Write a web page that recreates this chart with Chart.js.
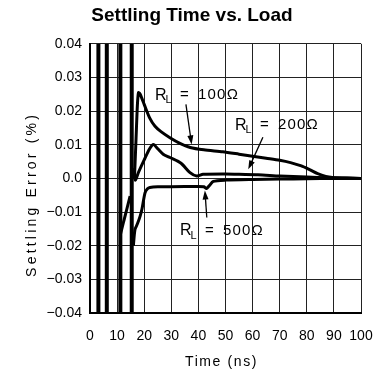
<!DOCTYPE html>
<html>
<head>
<meta charset="utf-8">
<script src="https://cdn.jsdelivr.net/npm/chart.js@4.4.1/dist/chart.umd.min.js"></script>
<style>
	body { margin: 0; background: #fff; }
	canvas { display: block; }
</style>
</head>
<body>
<canvas id="settlingchart" width="374" height="370"></canvas>
<script>
// tick values and labels
const xTicks = [0, 10, 20, 30, 40, 50, 60, 70, 80, 90, 100];
const xTickLabels = ["0", "10", "20", "30", "40", "50", "60", "70", "80", "90", "100"];
const yTicks = [-0.04, -0.03, -0.02, -0.01, 0, 0.01, 0.02, 0.03, 0.04];
const yTickLabels = ["\u22120.04", "\u22120.03", "\u22120.02", "\u22120.01", "0.0", "0.01", "0.02", "0.03", "0.04"];

// ringing before the output settles (off-scale swings)
const ringTimes = [3.1, 6.2, 11.2, 15.4];
const ringDiagTime = [11.2, 14.8];
const ringDiagErr = [-0.0167, -0.0053];

// R_L = 100 ohm
const time100 = [16.4, 17.0, 17.5, 17.9, 18.5, 20, 22, 24, 26.2, 29.5, 33, 37, 42, 49, 55, 60, 65, 70, 74, 78, 81, 84, 87, 89.5, 95, 100];
const err100 = [0.0, 0.012, 0.022, 0.0255, 0.025, 0.022, 0.018, 0.0155, 0.0139, 0.0121, 0.0105, 0.0092, 0.0085, 0.0079, 0.0072, 0.0066, 0.006, 0.0054, 0.0047, 0.0037, 0.0026, 0.0014, 0.0006, 0.0003, 0.0001, 0];

// R_L = 200 ohm
const time200 = [15.8, 16.7, 18, 20, 22, 23.4, 25, 27, 29.5, 33.6, 36.9, 39.4, 41.7, 50, 55, 62, 70, 80, 88, 100];
const err200 = [0.003, -0.0005, 0.002, 0.0055, 0.0088, 0.0101, 0.0088, 0.0072, 0.0062, 0.0045, 0.0017, 0.0007, 0.0012, 0.0013, 0.0012, 0.0011, 0.0007, 0.0004, 0.0002, 0];

// R_L = 500 ohm
const time500 = [16.0, 16.6, 17.5, 18.5, 19.2, 20.3, 21.2, 22.1, 25, 30, 40, 42, 43, 44, 45.5, 50, 60, 70, 80, 90, 100];
const err500 = [-0.02, -0.0152, -0.0135, -0.0112, -0.009, -0.0043, -0.0031, -0.0027, -0.0025, -0.0025, -0.0024, -0.0025, -0.003, -0.0022, -0.0009, -0.0005, -0.0003, -0.0002, -0.0001, 0, 0];

const loadNames = ["100\u03a9", "200\u03a9", "500\u03a9"];

// where the callouts sit, in data units
const notes = [
	{ text: loadNames[0], x: 24.0, y: 0.0247, ax: 35.4, ay: 0.022, bx: 37.5, by: 0.0101 },
	{ text: loadNames[1], x: 53.5, y: 0.0158, ax: 63.8, ay: 0.0122, bx: 58.4, by: 0.0027 },
	{ text: loadNames[2], x: 33.2, y: -0.0155, ax: 43.1, ay: -0.0116, bx: 42.4, by: -0.0036 }
];

function pairs(xs, ys) {
	return xs.map((v, i) => ({ x: v, y: ys[i] }));
}

function curve(xs, ys) {
	return {
		data: pairs(xs, ys),
		showLine: true,
		borderColor: "#000",
		borderWidth: 3,
		pointRadius: 0,
		tension: 0.25
	};
}

const datasets = ringTimes.map((t) => ({
	data: [{ x: t, y: -0.04 }, { x: t, y: 0.04 }],
	showLine: true,
	borderColor: "#000",
	borderWidth: 4,
	pointRadius: 0
}));
datasets.push({
	data: pairs(ringDiagTime, ringDiagErr),
	showLine: true,
	borderColor: "#000",
	borderWidth: 3,
	pointRadius: 0
});
datasets.push(curve(time100, err100));
datasets.push(curve(time200, err200));
datasets.push(curve(time500, err500));

function arrow(ctx, x1, y1, x2, y2) {
	const ang = Math.atan2(y2 - y1, x2 - x1);
	ctx.lineWidth = 1.3;
	ctx.beginPath();
	ctx.moveTo(x1, y1);
	ctx.lineTo(x2 - 6 * Math.cos(ang), y2 - 6 * Math.sin(ang));
	ctx.stroke();
	ctx.beginPath();
	ctx.moveTo(x2, y2);
	ctx.lineTo(x2 - 9 * Math.cos(ang) + 3 * Math.sin(ang), y2 - 9 * Math.sin(ang) - 3 * Math.cos(ang));
	ctx.lineTo(x2 - 9 * Math.cos(ang) - 3 * Math.sin(ang), y2 - 9 * Math.sin(ang) + 3 * Math.cos(ang));
	ctx.closePath();
	ctx.fill();
}

const textPlugin = {
	id: "textPlugin",
	afterDraw(chart) {
		const ctx = chart.ctx;
		const area = chart.chartArea;
		const xs = chart.scales.x;
		const ys = chart.scales.y;
		ctx.save();
		ctx.fillStyle = "#000";
		ctx.strokeStyle = "#000";
		ctx.textBaseline = "middle";

		// axis titles
		ctx.font = '14px "Liberation Sans"';
		ctx.letterSpacing = "1.6px";
		ctx.textAlign = "center";
		ctx.fillText("Time (ns)", (area.left + area.right) / 2 - 4, area.bottom + 49);
		ctx.save();
		ctx.translate(area.left - 58, (area.top + area.bottom) / 2 + 16);
		ctx.rotate(-Math.PI / 2);
		ctx.letterSpacing = "3.2px";
		ctx.fillText("Settling Error (%)", 0, 0);
		ctx.restore();

		// callouts
		ctx.textAlign = "left";
		notes.forEach((n) => {
			const px = xs.getPixelForValue(n.x);
			const py = ys.getPixelForValue(n.y);
			ctx.letterSpacing = "0px";
			ctx.font = '16px "Liberation Sans"';
			ctx.fillText("R", px, py);
			const w = ctx.measureText("R").width;
			ctx.font = '11px "Liberation Sans"';
			ctx.fillText("L", px + w - 1, py + 5);
			ctx.font = '15px "Liberation Sans"';
			ctx.letterSpacing = "1.2px";
			ctx.fillText("=", px + 25, py);
			ctx.fillText(n.text, px + 43, py);
			arrow(ctx, xs.getPixelForValue(n.ax), ys.getPixelForValue(n.ay), xs.getPixelForValue(n.bx), ys.getPixelForValue(n.by));
		});
		ctx.restore();
	}
};

const tickFont = { family: "Liberation Sans", size: 14 };

new Chart(document.getElementById("settlingchart").getContext("2d"), {
	type: "scatter",
	data: { datasets: datasets },
	options: {
		responsive: false,
		animation: false,
		devicePixelRatio: 1,
		// uneven side padding keeps the title centred where the original has it
		layout: { padding: { left: 23, right: 13, top: 0, bottom: 0 } },
		plugins: {
			legend: { display: false },
			tooltip: { enabled: false },
			title: {
				display: true,
				text: "Settling Time vs. Load",
				color: "#000",
				font: { family: "Liberation Sans", size: 19, weight: "bold" },
				padding: { top: 4, bottom: 17 }
			}
		},
		scales: {
			x: {
				type: "linear",
				min: 0,
				max: 100,
				afterBuildTicks: (scale) => {
					scale.ticks = xTicks.map((v) => ({ value: v }));
				},
				afterFit: (scale) => {
					scale.height = 57;
				},
				ticks: {
					autoSkip: false,
					maxRotation: 0,
					color: "#000",
					// tall line box pushes the labels down without widening the right overhang
					font: { family: "Liberation Sans", size: 14, lineHeight: 3.2 },
					padding: 1,
					callback: (v, i) => xTickLabels[i]
				},
				grid: { color: "#222", lineWidth: 1, drawTicks: false },
				border: { color: "#000", width: 2 }
			},
			y: {
				type: "linear",
				min: -0.04,
				max: 0.04,
				afterBuildTicks: (scale) => {
					scale.ticks = yTicks.map((v) => ({ value: v }));
				},
				afterFit: (scale) => {
					scale.width = 67;
				},
				ticks: {
					autoSkip: false,
					color: "#000",
					font: tickFont,
					padding: 8,
					callback: (v, i) => yTickLabels[i]
				},
				grid: { color: "#222", lineWidth: 1, drawTicks: false },
				border: { color: "#000", width: 2 }
			}
		}
	},
	plugins: [textPlugin]
});
</script>
</body>
</html>
